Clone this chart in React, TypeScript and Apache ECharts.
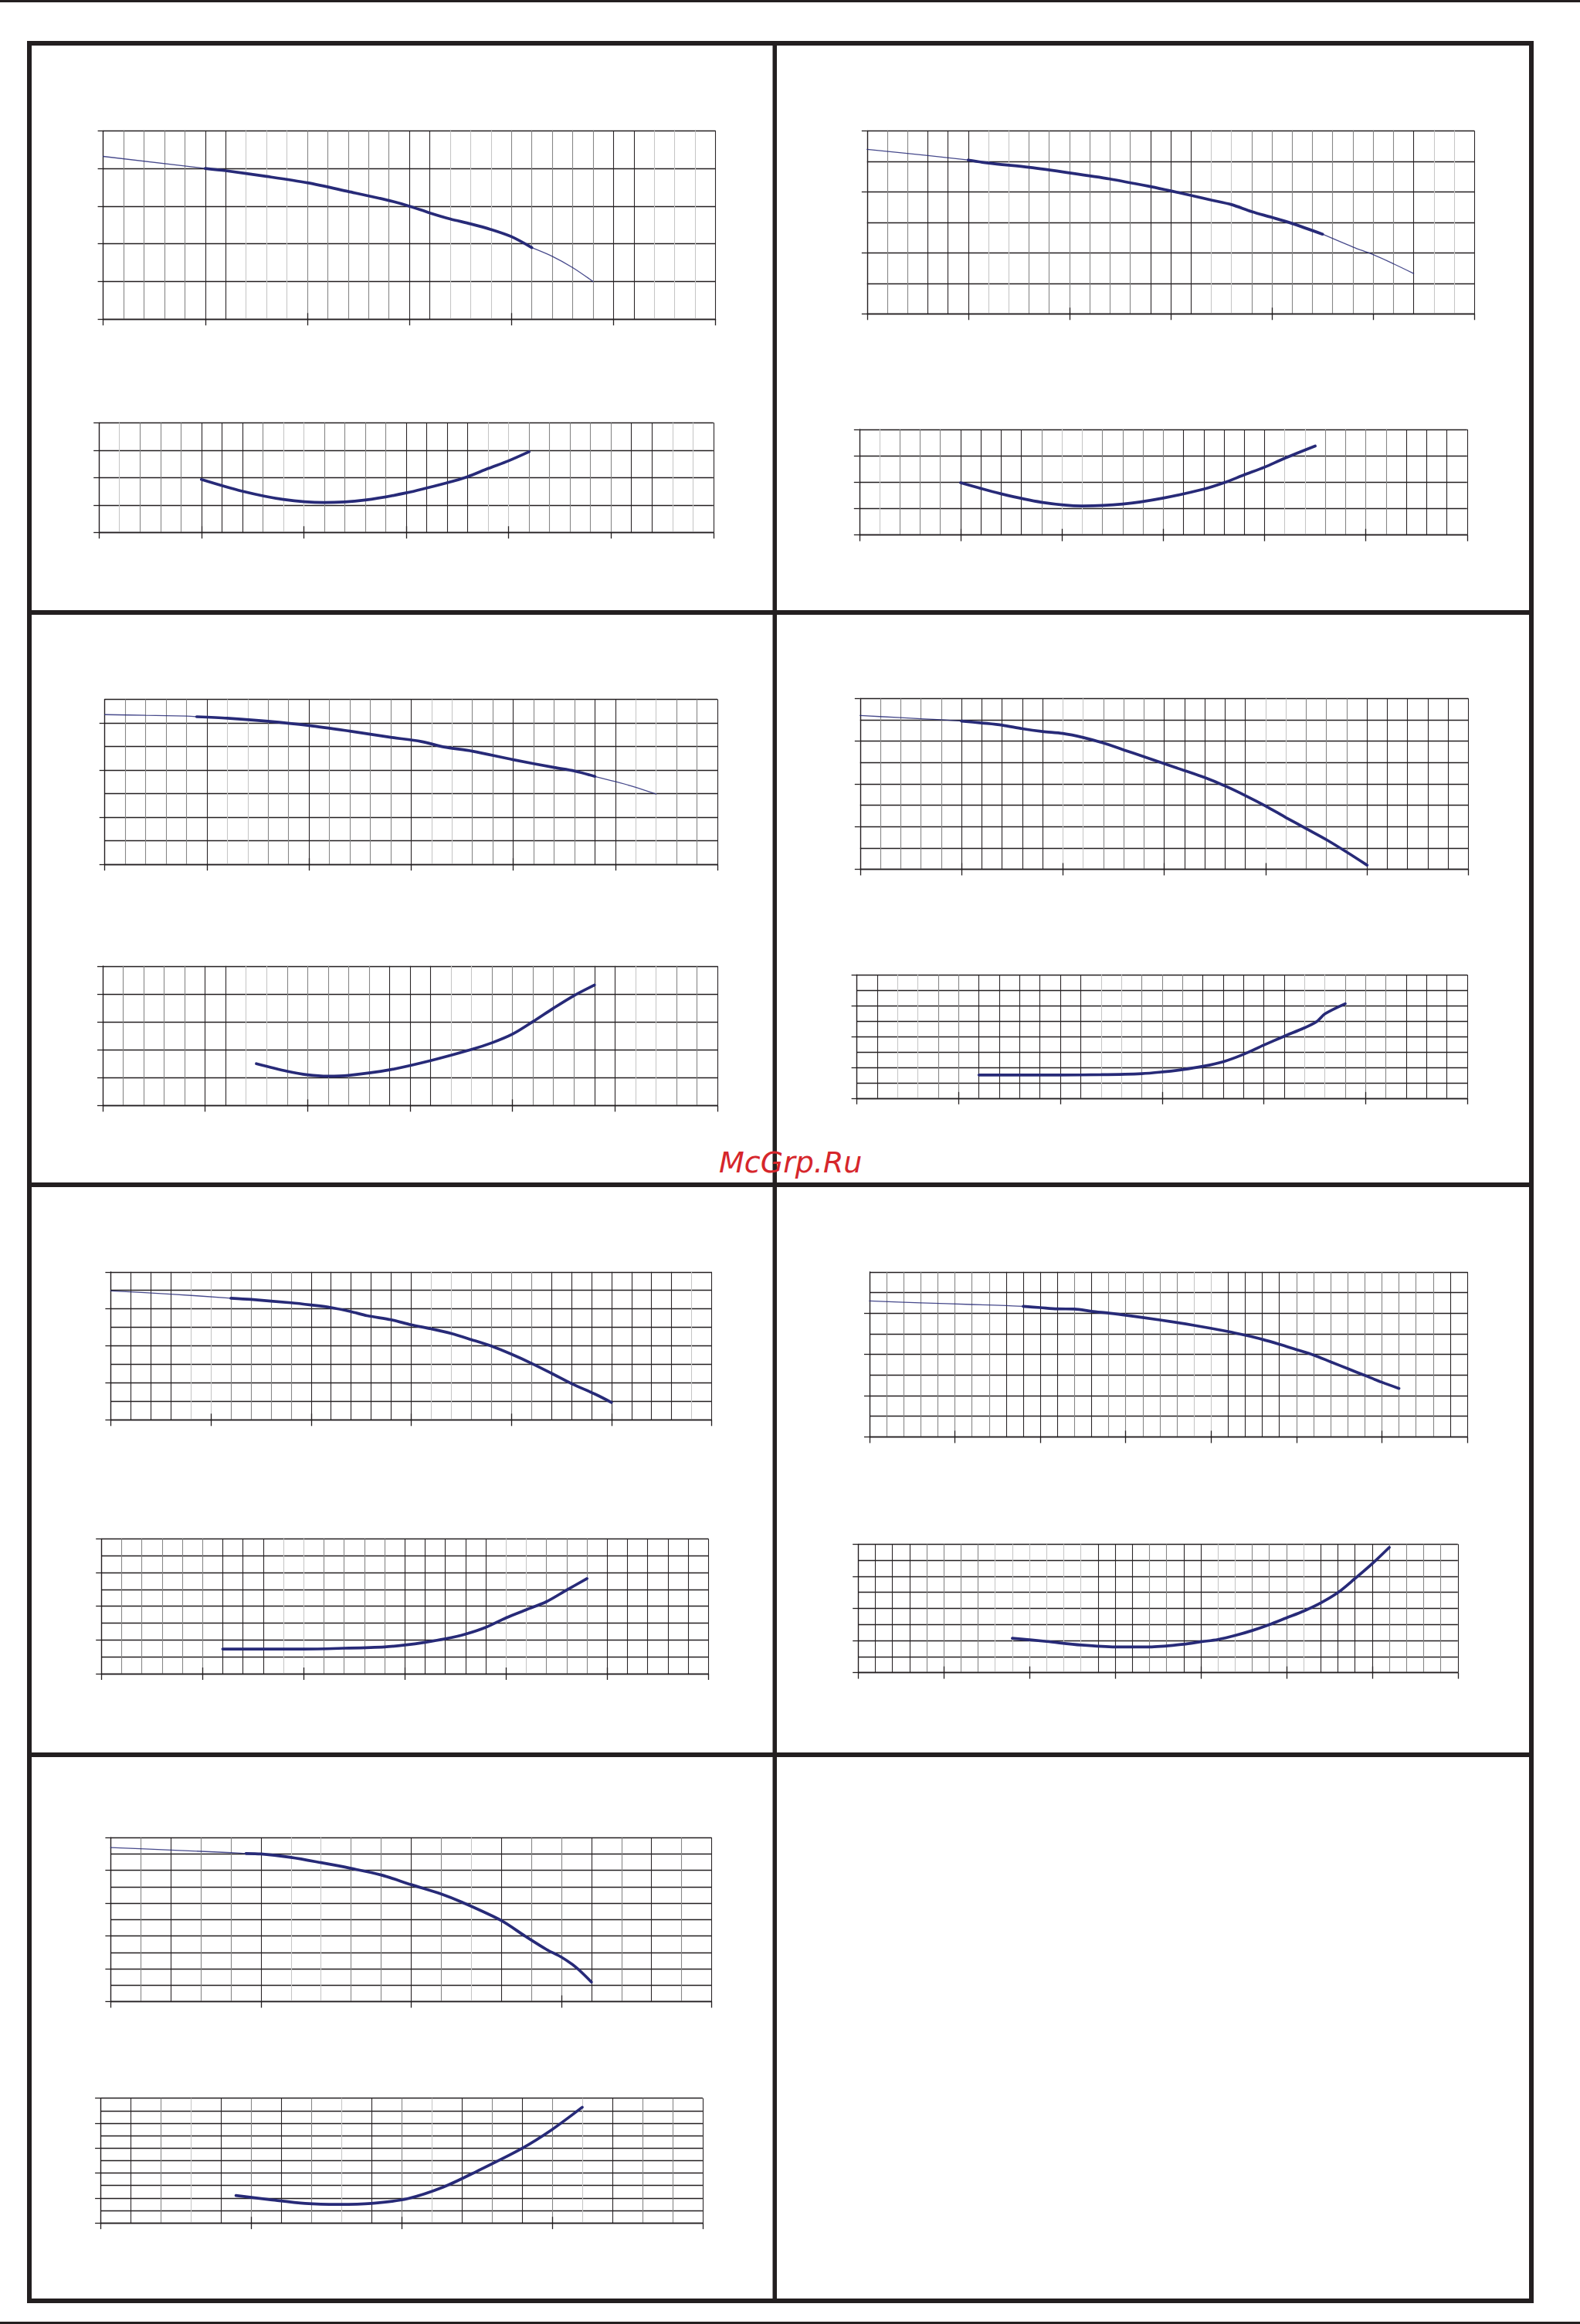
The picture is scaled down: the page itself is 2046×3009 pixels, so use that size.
import React, { useEffect, useRef } from "react";
import * as echarts from "echarts";

// ---------- curve data (x = grid column, y = grid row counted from the bottom) ----------
const p1Lead = [[0, 4.32], [5, 4.0]];
const p1Duty = [[5, 4.0], [6, 3.94], [8, 3.79], [10, 3.62], [12, 3.39], [14, 3.15], [15, 3.0], [16, 2.82], [17, 2.66], [18, 2.53], [19, 2.38], [20, 2.19], [21, 1.9]];
const p1Tail = [[21, 1.9], [22, 1.67], [23, 1.37], [24, 1.0]];
const p2Curve = [[5, 1.93], [7, 1.5], [9, 1.2], [11, 1.09], [13, 1.18], [15, 1.44], [17, 1.81], [18, 2.03], [19, 2.33], [20, 2.61], [21, 2.94]];

const p3Lead = [[0, 5.39], [3, 5.19], [5, 5.04]];
const p3Duty = [[5, 5.04], [6, 4.94], [8, 4.8], [10, 4.62], [12, 4.42], [14, 4.17], [15, 4.03], [17, 3.73], [18, 3.58], [19, 3.35], [20, 3.16], [21, 2.96], [22.5, 2.61]];
const p3Tail = [[22.5, 2.61], [24, 2.19], [25, 1.94], [26, 1.64], [27, 1.32]];
const p4Curve = [[5, 1.98], [7, 1.56], [9, 1.24], [11, 1.1], [13, 1.17], [15, 1.4], [17, 1.74], [18, 1.98], [19, 2.28], [20, 2.57], [21, 2.91], [22.5, 3.37]];

const p5Lead = [[0, 6.35], [2, 6.32], [4, 6.29], [4.5, 6.26]];
const p5Duty = [[4.5, 6.26], [6, 6.2], [8, 6.07], [10, 5.89], [12, 5.65], [14, 5.39], [15.5, 5.21], [16.6, 4.98], [18, 4.8], [20, 4.44], [22, 4.11], [23, 3.96], [24, 3.73]];
const p5Tail = [[24, 3.73], [25, 3.51], [26, 3.27], [27, 2.98]];
const p6Curve = [[7.5, 1.5], [9, 1.23], [10, 1.1], [11, 1.05], [12, 1.08], [14, 1.28], [16, 1.61], [18, 2.01], [19, 2.25], [20, 2.56], [21, 3.01], [22, 3.49], [23, 3.94], [24, 4.32]];

const p7Lead = [[0, 7.2], [2, 7.1], [4, 7.0], [5, 6.94]];
const p7Duty = [[5, 6.94], [6, 6.85], [7, 6.75], [8, 6.58], [9, 6.45], [10, 6.36], [11, 6.17], [12, 5.91], [13, 5.59], [14, 5.27], [15, 4.94], [16, 4.62], [17, 4.29], [18, 3.9], [19, 3.45], [20, 2.96], [21, 2.42], [22, 1.9], [23, 1.38], [24, 0.8], [25, 0.19]];
const p8Curve = [[6, 1.5], [8, 1.5], [10, 1.5], [12, 1.52], [14, 1.59], [15, 1.7], [16, 1.85], [17, 2.06], [18, 2.36], [19, 2.84], [20, 3.44], [21, 4.01], [22, 4.56], [22.6, 4.96], [23, 5.46], [24, 6.12]];

const p9Lead = [[0, 6.97], [3, 6.8], [6, 6.58]];
const p9Duty = [[6, 6.58], [7, 6.51], [9, 6.33], [10, 6.21], [11, 6.07], [12, 5.85], [12.8, 5.63], [14, 5.41], [15, 5.14], [16, 4.92], [17, 4.67], [18, 4.34], [19, 3.99], [20, 3.55], [21, 3.06], [22, 2.52], [23, 1.96], [24.2, 1.38], [25, 0.94]];
const p10Curve = [[6, 1.46], [8, 1.46], [10, 1.46], [12, 1.51], [14, 1.59], [15, 1.7], [16, 1.86], [17, 2.07], [18, 2.35], [19, 2.75], [20, 3.31], [21, 3.79], [22, 4.27], [23, 4.96], [24, 5.64]];

const p11Lead = [[0, 6.59], [3, 6.5], [6, 6.42], [8, 6.37], [9, 6.33]];
const p11Duty = [[9, 6.33], [10, 6.27], [11, 6.21], [12, 6.2], [13, 6.09], [14, 6.0], [15, 5.9], [17, 5.67], [19, 5.41], [21, 5.11], [22, 4.93], [23, 4.73], [24, 4.49], [25, 4.23], [26, 3.97], [27, 3.64], [28, 3.31], [29, 2.98], [30, 2.65], [31, 2.35]];
const p12Curve = [[9, 2.14], [11, 1.94], [13, 1.72], [15, 1.6], [17, 1.6], [19, 1.77], [20, 1.92], [21, 2.06], [22, 2.31], [23, 2.62], [24, 2.99], [25, 3.41], [26, 3.83], [27, 4.34], [28, 4.98], [29, 5.86], [30, 6.78], [31, 7.8]];

const p13Lead = [[0, 9.39], [2, 9.24], [4, 9.08], [4.5, 9.03]];
const p13Duty = [[4.5, 9.03], [5, 9.0], [6, 8.79], [7, 8.47], [8, 8.12], [9, 7.72], [10, 7.13], [11, 6.56], [11.7, 6.05], [13, 4.94], [13.8, 3.98], [14.5, 3.18], [15, 2.71], [15.5, 2.07], [16, 1.19]];
const p14Curve = [[4.5, 2.2], [5.6, 1.88], [6.8, 1.57], [7.9, 1.49], [9, 1.57], [10.2, 1.95], [11.4, 2.89], [12.5, 4.14], [14, 5.98], [15, 7.49], [16, 9.27]];

// ---------- tick positions ----------
const ticks30 = [0, 5, 10, 15, 20, 25, 30];
const ticks35 = [0, 5, 10, 15, 20, 25, 30, 35];
const ticks20 = [0, 5, 10, 15, 20];

// ---------- layout / style ----------
const DARK = "#231f20";
const CURVE = "#272a78";
const SHADE: Record<string, string> = { d: "#2b2728", m: "#878787", l: "#c6c6c6" };
const THIN = 1.3;
const THICK = 3.7;

type Panel = {
  rect: number[];
  cols: number;
  rows: number;
  shades: string;
  yTicks: number[];
  outTicks: number[];
  inTicks: number[];
  lines: { data: number[][]; w: number }[];
};

const panels: Panel[] = [
  { rect: [133.6, 169.3, 793, 244], cols: 30, rows: 5, shades: "dmmmmddlllmmmmmddlllmmmmmddllld", yTicks: [0, 1, 2, 3, 4, 5], outTicks: ticks30, inTicks: [10, 20],
    lines: [{ data: p1Lead, w: THIN }, { data: p1Duty, w: THICK }, { data: p1Tail, w: THIN }] },
  { rect: [128.2, 547.3, 795.6, 142], cols: 30, rows: 4, shades: "dlmmmdddmllmmmmddddllmmmmmddlld", yTicks: [0, 1, 2, 3, 4], outTicks: ticks30, inTicks: [5, 10, 15, 20],
    lines: [{ data: p2Curve, w: THICK }] },
  { rect: [1122.8, 169.3, 786.4, 237], cols: 30, rows: 6, shades: "dmmdddllmmmmmmdddllmmmmmmmmdlld", yTicks: [0, 2, 4, 6], outTicks: ticks30, inTicks: [10, 20],
    lines: [{ data: p3Lead, w: THIN }, { data: p3Duty, w: THICK }, { data: p3Tail, w: THIN }] },
  { rect: [1112.8, 556, 787, 136.7], cols: 30, rows: 4, shades: "dlmmmddddmllmmmmdddddllmmmmdddd", yTicks: [0, 1, 2, 3, 4], outTicks: ticks30, inTicks: [5, 10, 15, 25],
    lines: [{ data: p4Curve, w: THICK }] },
  { rect: [135.7, 905.4, 793.3, 213.8], cols: 30, rows: 7, shades: "dmmmmdllmmdmmmmdllmmdmmmddllmmd", yTicks: [0, 2, 4, 6], outTicks: ticks30, inTicks: [10, 20],
    lines: [{ data: p5Lead, w: THIN }, { data: p5Duty, w: THICK }, { data: p5Tail, w: THIN }] },
  { rect: [133, 1250.8, 796, 180.6], cols: 30, rows: 5, shades: "dmmmmddllmmmmmdddllmmmmmddllmmd", yTicks: [0, 1, 2, 3, 4, 5], outTicks: ticks30, inTicks: [10, 20],
    lines: [{ data: p6Curve, w: THICK }] },
  { rect: [1113.8, 904.3, 787.7, 221.1], cols: 30, rows: 8, shades: "dmmmmdddddllmmmdddddllmmmdddddd", yTicks: [0, 2, 4, 6, 8], outTicks: ticks30, inTicks: [5, 10, 15, 20],
    lines: [{ data: p7Lead, w: THIN }, { data: p7Duty, w: THICK }] },
  { rect: [1109.6, 1262.1, 790.4, 159.7], cols: 30, rows: 8, shades: "ddllmmddddddllmmmdddddllmmmdddd", yTicks: [0, 2, 4, 6, 8], outTicks: ticks30, inTicks: [5, 15, 25],
    lines: [{ data: p8Curve, w: THICK }] },
  { rect: [143.4, 1646.8, 778.1, 191.5], cols: 30, rows: 8, shades: "ddddllmmmmddddddllmmmmdddddddld", yTicks: [0, 2, 4, 6, 8], outTicks: ticks30, inTicks: [5, 10, 15, 20, 25],
    lines: [{ data: p9Lead, w: THIN }, { data: p9Duty, w: THICK }] },
  { rect: [131.2, 1992.3, 786.1, 174.7], cols: 30, rows: 8, shades: "dmmmmmdddllmmmmdddddllmmmdddddd", yTicks: [0, 2, 4, 6, 8], outTicks: ticks30, inTicks: [5, 10, 15, 20, 25],
    lines: [{ data: p10Curve, w: THICK }] },
  { rect: [1126, 1646.8, 774, 213.6], cols: 35, rows: 8, shades: "dmmmmmmmddddmdmmmmmllddddmmmmmmmmmdd", yTicks: [0, 2, 4, 6], outTicks: ticks35, inTicks: [5, 15, 20, 30],
    lines: [{ data: p11Lead, w: THIN }, { data: p11Duty, w: THICK }] },
  { rect: [1111.2, 1999.3, 776.6, 166.3], cols: 35, rows: 8, shades: "ddddmmmmlllllldddmmddllmmmlddddmmmmd", yTicks: [0, 2, 4, 6, 8], outTicks: ticks35, inTicks: [5, 10, 20, 25, 30],
    lines: [{ data: p12Curve, w: THICK }] },
  { rect: [143.4, 2379.2, 778.1, 212.3], cols: 20, rows: 10, shades: "dmdmmdllmmdmldmmdmdmd", yTicks: [0, 2, 4, 6, 8, 10], outTicks: ticks20, inTicks: [15],
    lines: [{ data: p13Lead, w: THIN }, { data: p13Duty, w: THICK }] },
  { rect: [130.1, 2716.6, 779.8, 161.6], cols: 20, rows: 10, shades: "ddmldmdmldmldmdmldmmd", yTicks: [0, 2, 4, 6, 8, 10], outTicks: ticks20, inTicks: [5, 10, 15],
    lines: [{ data: p14Curve, w: THICK }] },
];

function buildOption() {
  const grid: any[] = [];
  const xAxis: any[] = [];
  const yAxis: any[] = [];
  const series: any[] = [];
  const tickLine = { color: DARK, width: 1.3 };

  panels.forEach((p, i) => {
    const [left, top, width, height] = p.rect;
    grid.push({ left, top, width, height, containLabel: false, outerBoundsMode: "none" });
    const xBase = { type: "value", gridIndex: i, min: 0, max: p.cols, position: "bottom", axisLabel: { show: false } };
    xAxis.push({
      ...xBase,
      interval: 1,
      axisLine: { show: true, onZero: false, lineStyle: tickLine },
      axisTick: { show: false },
      splitLine: { show: true, lineStyle: { color: p.shades.split("").map((c) => SHADE[c]), width: 1.1 } },
    });
    xAxis.push({
      ...xBase,
      axisLine: { show: false, onZero: false },
      splitLine: { show: false },
      axisTick: { show: true, length: 8, customValues: p.outTicks, lineStyle: tickLine },
    });
    xAxis.push({
      ...xBase,
      axisLine: { show: false, onZero: false },
      splitLine: { show: false },
      axisTick: { show: true, inside: true, length: 8, customValues: p.inTicks, lineStyle: tickLine },
    });
    const yBase = { type: "value", gridIndex: i, min: 0, max: p.rows, position: "left", axisLabel: { show: false } };
    yAxis.push({
      ...yBase,
      interval: 1,
      axisLine: { show: true, onZero: false, lineStyle: tickLine },
      axisTick: { show: false },
      splitLine: { show: true, lineStyle: { color: DARK, width: 1.3 } },
    });
    yAxis.push({
      ...yBase,
      axisLine: { show: false, onZero: false },
      splitLine: { show: false },
      axisTick: { show: true, length: 7, customValues: p.yTicks, lineStyle: tickLine },
    });
    p.lines.forEach((l) => {
      series.push({
        type: "line",
        xAxisIndex: 3 * i,
        yAxisIndex: 2 * i,
        data: l.data,
        showSymbol: false,
        smooth: 0.3,
        silent: true,
        z: 5,
        lineStyle: { color: CURVE, width: l.w, cap: "round", opacity: l.w < 2 ? 0.85 : 1 },
      });
    });
  });

  const graphic: any[] = [
    { type: "rect", shape: { x: 0, y: 0, width: 2046, height: 3 }, style: { fill: DARK } },
    { type: "rect", shape: { x: 0, y: 3006, width: 2046, height: 3 }, style: { fill: DARK } },
    { type: "rect", shape: { x: 38, y: 56, width: 1945, height: 2923 }, style: { fill: "none", stroke: DARK, lineWidth: 6 } },
    { type: "rect", shape: { x: 1000.5, y: 56, width: 5.5, height: 2923 }, style: { fill: DARK } },
    { type: "rect", shape: { x: 38, y: 790, width: 1945, height: 6 }, style: { fill: DARK } },
    { type: "rect", shape: { x: 38, y: 1531, width: 1945, height: 6 }, style: { fill: DARK } },
    { type: "rect", shape: { x: 38, y: 2269, width: 1945, height: 6 }, style: { fill: DARK } },
    {
      type: "text",
      x: 931,
      y: 1505,
      z: 100,
      style: { text: "McGrp.Ru", font: 'italic 38px "DejaVu Sans"', fill: "#d6262b", align: "left", verticalAlign: "middle" },
    },
  ];

  return { animation: false, backgroundColor: "#ffffff", grid, xAxis, yAxis, series, graphic };
}

export default function App() {
  const ref = useRef<HTMLDivElement>(null);
  useEffect(() => {
    if (!ref.current) return;
    const chart = echarts.init(ref.current, null, { renderer: "svg" });
    chart.setOption(buildOption() as any);
    return () => chart.dispose();
  }, []);
  return (
    <div
      ref={ref}
      style={{ position: "absolute", left: 0, top: 0, width: 2046, height: 3009, background: "#fff" }}
    />
  );
}
